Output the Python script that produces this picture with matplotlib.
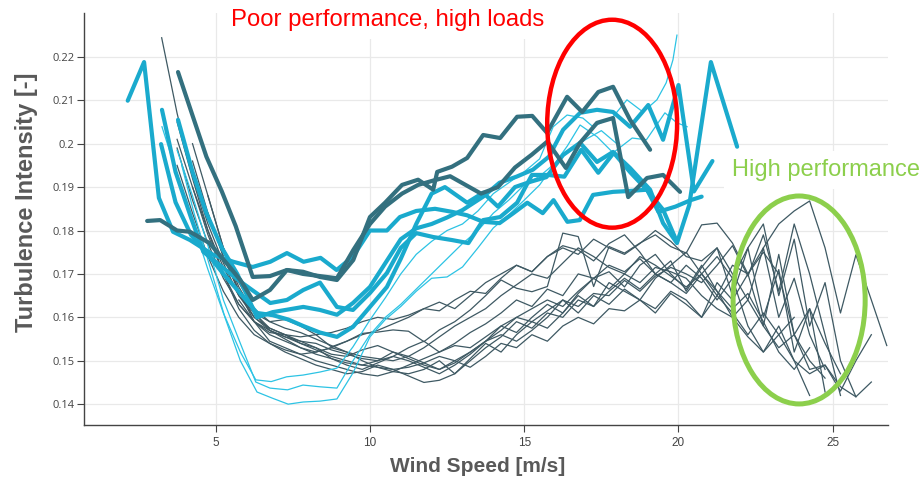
import numpy as np
import matplotlib
matplotlib.use("Agg")
import matplotlib.pyplot as plt
from matplotlib.patches import Ellipse

# ---------------- data ----------------
WS = [3.25, 3.75, 4.25, 4.75, 5.25, 5.75, 6.25, 6.75, 7.25, 7.75, 8.25, 8.75,
      9.25, 9.75, 10.25, 10.75, 11.25, 11.75, 12.25, 12.75, 13.25, 13.75, 14.25,
      14.75, 15.25, 15.75, 16.25, 16.75, 17.25, 17.75, 18.25, 18.75, 19.25, 19.75,
      20.25, 20.75, 21.25, 21.75, 22.25, 22.75, 23.25, 23.75, 24.25, 24.75, 25.25,
      25.75, 26.25, 26.75]

td1_start = 3.25
td1 = [.2244, .2070, .1925, .1815, .1725, .1650, .1600, .1575, .1560, .1545, .1530, .1515,
       .1510, .1525, .1535, .1520, .1505, .1490, .1480, .1495, .1520, .1545, .1560, .1545,
       .1570, .1600, .1640, .1625, .1655, .1650, .1685, .1660, .1695, .1715, .1700, .1680,
       .1720, .1765, .1695, .1790, .1660, .1815, .1700, .1560, .1420]
td2_start = 3.75
td2 = [.2010, .1900, .1800, .1715, .1650, .1610, .1590, .1595, .1580, .1560, .1532, .1545,
       .1563, .1566, .1571, .1568, .1544, .1571, .1590, .1617, .1650, .1686, .1667, .1659,
       .1671, .1794, .1786, .1671, .1763, .1748, .1771, .1790, .1763, .1748, .1813, .1817,
       .1771, .1700, .1760, .1815, .1845, .1868, .1760, .1610, .1744, .1640, .1535]
td3_start = 3.75
td3 = [.1990, .1870, .1770, .1690, .1630, .1590, .1570, .1555, .1545, .1540, .1525, .1515,
       .1505, .1500, .1510, .1530, .1545, .1520, .1540, .1565, .1585, .1610, .1640, .1625,
       .1665, .1650, .1700, .1690, .1720, .1705, .1735, .1700, .1730, .1660, .1715, .1760,
       .1650, .1760, .1600, .1710, .1520, .1620, .1540, .1470]
td4_start = 4.25
td4 = [.1960, .1840, .1740, .1660, .1610, .1575, .1560, .1540, .1530, .1505, .1490, .1480,
       .1495, .1510, .1500, .1485, .1470, .1490, .1515, .1545, .1570, .1600, .1590, .1615,
       .1640, .1610, .1650, .1630, .1665, .1640, .1610, .1655, .1630, .1600, .1650, .1720,
       .1700, .1580, .1745, .1560, .1620, .1428]
td5_start = 3.75
td5 = [.2050, .1920, .1800, .1700, .1620, .1570, .1540, .1520, .1505, .1490, .1480, .1470,
       .1475, .1490, .1480, .1465, .1450, .1455, .1470, .1500, .1530, .1555, .1590, .1575,
       .1610, .1600, .1640, .1625, .1660, .1690, .1665, .1700, .1680, .1655, .1700, .1740,
       .1690, .1760, .1815, .1650, .1780, .1580, .1680, .1500, .1417]
td6_start = 4.25
td6 = [.1900, .1790, .1700, .1630, .1590, .1565, .1560, .1555, .1560, .1565, .1575, .1590,
       .1600, .1595, .1605, .1620, .1635, .1620, .1650, .1680, .1700, .1720, .1705, .1740,
       .1760, .1745, .1780, .1760, .1745, .1770, .1800, .1775, .1740, .1730, .1760, .1700,
       .1640, .1760, .1600, .1690, .1560, .1480]
td7_start = 4.75
td7 = [.1840, .1740, .1660, .1600, .1570, .1555, .1540, .1525, .1510, .1500, .1490, .1500,
       .1520, .1510, .1495, .1480, .1500, .1520, .1545, .1580, .1565, .1600, .1630, .1610,
       .1655, .1690, .1665, .1700, .1680, .1715, .1705, .1690, .1650, .1620, .1600, .1555,
       .1520, .1580, .1500, .1420]
td8_start = 4.25
td8 = [.2000, .1880, .1760, .1660, .1590, .1545, .1530, .1515, .1500, .1490, .1480, .1470,
       .1465, .1475, .1490, .1505, .1520, .1535, .1530, .1555, .1580, .1600, .1620, .1640,
       .1625, .1660, .1690, .1705, .1670, .1720, .1745, .1700, .1665, .1720, .1660, .1600,
       .1640, .1580, .1530, .1560, .1500, .1460]
td9_start = 5.25
td9 = [.1760, .1680, .1620, .1590, .1575, .1565, .1550, .1535, .1520, .1510, .1505, .1500,
       .1510, .1530, .1555, .1580, .1600, .1620, .1650, .1675, .1700, .1690, .1725, .1760,
       .1740, .1715, .1700, .1740, .1720, .1695, .1670, .1700, .1660, .1620, .1655, .1590,
       .1520, .1480, .1530]
td10_start = 3.75
td10 = [.1950, .1840, .1740, .1660, .1600, .1560, .1540, .1525, .1515, .1520, .1530, .1520,
        .1500, .1485, .1475, .1470, .1480, .1500, .1470, .1505, .1540, .1520, .1560, .1590,
        .1575, .1610, .1650, .1625, .1680, .1660, .1640, .1690, .1720, .1750, .1700, .1650,
        .1610, .1560, .1610, .1560, .1500, .1470, .1490, .1440, .1417, .1451]
td11_start = 4.75
td11 = [.1880, .1760, .1670, .1610, .1570, .1550, .1530, .1515, .1505, .1495, .1490, .1485,
        .1480, .1485, .1495, .1510, .1500, .1485, .1510, .1540, .1530, .1560, .1545, .1580,
        .1600, .1585, .1620, .1615, .1640, .1620, .1660, .1640, .1600, .1680, .1640, .1700,
        .1750, .1700, .1560, .1480, .1490, .1430, .1500, .1560]
td12_start = 5.75
td12 = [.1640, .1590, .1560, .1545, .1530, .1520, .1530, .1545, .1560, .1570, .1585, .1600,
        .1620, .1615, .1640, .1660, .1655, .1690, .1720, .1705, .1740, .1765, .1755, .1730,
        .1770, .1790, .1750, .1700, .1680, .1720, .1690, .1640, .1690, .1580, .1520, .1560,
        .1600]

tc1_x = [3.26, 3.75, 4.25, 4.75, 5.25, 5.8, 6.3, 6.8, 7.3, 7.83, 8.38, 8.93, 9.45, 10.0, 10.5,
         11.0, 11.5, 12.0, 12.5, 13.0, 13.5, 14.0, 14.5, 15.0, 15.5, 15.94, 16.39, 16.9, 17.23,
         17.88, 18.33, 18.85, 19.3, 19.6, 19.82, 19.95]
tc1_y = [.2039, .1930, .1820, .1710, .1610, .1520, .1456, .1452, .1463, .1467, .1474, .1483,
         .1532, .1594, .1645, .1700, .1745, .1775, .1800, .1815, .1845, .1885, .1910, .1935,
         .1965, .2039, .2066, .2059, .2039, .2062, .2101, .2073, .2101, .2140, .2193, .2250]
tc2_x = [3.75, 4.25, 4.75, 5.25, 5.8, 6.3, 6.76, 7.33, 7.83, 8.38, 8.93, 9.45, 10.0, 10.5, 11.0,
         11.5, 12.0, 12.5, 13.0, 13.5, 14.0, 14.5, 15.0, 15.5, 16.0, 16.4, 16.81, 17.36, 17.88,
         18.5, 18.96, 19.56, 19.95, 20.28]
tc2_y = [.1985, .1880, .1765, .1640, .1540, .1451, .1437, .1433, .1444, .1440, .1437, .1500,
         .1560, .1600, .1630, .1665, .1700, .1735, .1770, .1800, .1840, .1870, .1905, .1925,
         .1955, .1995, .2043, .2016, .1979, .2013, .2009, .2071, .2048, .2039]
tc3_x = [3.9, 4.3, 4.8, 5.3, 5.8, 6.34, 6.83, 7.35, 7.84, 8.38, 8.93, 9.45, 10.0, 10.5, 11.0,
         11.5, 12.0, 12.5, 13.0, 13.5, 14.0, 14.5, 15.0, 15.5, 16.0, 16.5, 17.0, 17.5, 18.0]
tc3_y = [.1950, .1840, .1720, .1600, .1500, .1428, .1414, .1400, .1405, .1407, .1412, .1472,
         .1555, .1595, .1625, .1660, .1690, .1693, .1716, .1760, .1806, .1836, .1870, .1905,
         .1955, .1985, .2010, .2030, .2000]

ca_x = [2.15, 2.68, 3.16, 3.62, 4.17, 4.92, 5.57, 6.2, 6.77, 7.31, 7.85, 8.4, 8.92, 9.45, 10.0,
        10.55, 10.97, 11.5, 12.11, 12.66, 13.15, 13.67, 14.2, 14.65, 15.1, 15.6, 15.95, 16.4,
        16.8, 17.23, 17.88, 18.4, 18.98, 19.35, 19.9, 20.4, 20.75]
ca_y = [.2099, .2188, .1875, .1797, .1778, .1744, .1728, .1716, .1728, .1748, .1728, .1737,
        .1709, .1740, .1800, .1800, .1831, .1845, .1850, .1843, .1835, .1820, .1817, .1840,
        .1864, .1840, .1870, .1820, .1824, .1882, .1889, .1891, .1894, .1843, .1855, .1870,
        .1878]
cb_x = [3.26, 3.7, 4.2, 4.6, 5.24, 5.75, 6.18, 6.77, 7.31, 7.84, 8.38, 8.93, 9.45, 10.0, 10.55,
        11.0, 11.5, 12.05, 12.66, 13.19, 13.67, 14.22, 14.77, 15.25, 15.77, 16.3, 16.85, 17.4,
        17.9, 18.45, 18.97, 19.5, 19.95]
cb_y = [.2078, .1935, .1830, .1751, .1714, .1685, .1663, .1633, .1640, .1663, .1680, .1624,
        .1617, .1656, .1702, .1760, .1794, .1785, .1778, .1771, .1824, .1831, .1864, .1928,
        .1928, .1924, .1986, .1933, .1979, .1933, .1894, .1848, .1774]
ct_x = [3.78, 4.25, 4.7, 5.2, 5.7, 6.34, 6.85, 7.35, 7.84, 8.38, 8.93, 9.45, 10.0, 10.5, 11.0,
        11.5, 12.0, 12.5, 13.0, 13.67, 14.2, 14.75, 15.28, 15.8, 16.26, 16.81, 17.36, 17.88,
        18.43, 19.02, 19.5, 20.0, 20.5, 21.1]
ct_y = [.2055, .1935, .1840, .1760, .1700, .1600, .1612, .1618, .1624, .1617, .1606, .1633,
        .1670, .1725, .1780, .1805, .1815, .1830, .1847, .1878, .1910, .1924, .1940, .1970,
        .2032, .2071, .2078, .2073, .2039, .2089, .2009, .2135, .1890, .1960]
cv_x = [3.23, 3.7, 4.2, 4.75, 5.25, 5.8, 6.34, 6.85, 7.35, 7.84, 8.38, 8.93, 9.45, 10.0, 10.55,
        11.0, 11.5, 12.0, 12.43, 13.15, 13.67, 14.15, 14.7, 15.19, 15.72, 16.26, 16.81, 17.36,
        17.88, 18.43, 19.08, 19.5, 19.95, 20.35, 21.05, 21.9]
cv_y = [.1999, .1865, .1790, .1745, .1700, .1655, .1610, .1605, .1595, .1580, .1565, .1555,
        .1578, .1624, .1670, .1735, .1815, .1885, .1900, .1864, .1887, .1855, .1900, .1912,
        .1923, .1974, .2002, .1958, .1981, .1944, .1894, .1817, .1771, .1859, .2188, .1993]

d1_x = [3.78, 4.25, 4.7, 5.2, 5.65, 6.2, 6.76, 7.31, 7.83, 8.38, 8.93, 9.46, 10.0, 10.49, 11.04,
        11.56, 12.05, 12.18, 12.66, 13.15, 13.67, 14.22, 14.77, 15.26, 15.74, 16.39, 16.88,
        17.4, 17.88, 18.43, 19.08]
d1_y = [.2165, .2065, .1970, .1890, .1810, .1693, .1695, .1709, .1705, .1693, .1686, .1732,
        .1831, .1864, .1905, .1917, .1894, .1935, .1947, .1967, .2020, .2013, .2062, .2064,
        .2025, .2108, .2073, .2119, .2131, .2055, .1986]
d2_x = [2.78, 3.2, 3.75, 4.17, 4.8, 5.35, 5.8, 6.2, 6.76, 7.31, 7.83, 8.38, 8.93, 9.46, 10.0,
        10.49, 11.04, 11.56, 12.05, 12.6, 13.1, 13.6, 14.15, 14.7, 15.25, 15.75, 16.35, 16.81,
        17.36, 17.88, 18.37, 18.98, 19.5, 20.05]
d2_y = [.1822, .1824, .1800, .1797, .1771, .1725, .1686, .1640, .1663, .1709, .1700, .1695,
        .1690, .1755, .1815, .1855, .1885, .1905, .1915, .1925, .1905, .1885, .1900, .1945,
        .1975, .2005, .1944, .2002, .2048, .2059, .1877, .1921, .1928, .1889]

x_ticks = [5, 10, 15, 20, 25]
y_ticks = [0.14, 0.15, 0.16, 0.17, 0.18, 0.19, 0.20, 0.21, 0.22]
y_tick_labels = ["0.14", "0.15", "0.16", "0.17", "0.18", "0.19", "0.2", "0.21", "0.22"]

# ---------------- style ----------------
C_THIN_DARK = "#3e5963"
C_THIN_CYAN = "#2cc3e4"
C_THICK_CYAN = "#1aaacd"
C_THICK_DARK = "#33707f"

fig = plt.figure(figsize=(9.24, 4.82), dpi=100)
ax = fig.add_axes([84 / 924, 1 - 425 / 482, (888 - 84) / 924, (425 - 13) / 482])

def bins_from(start, n):
    i = WS.index(start)
    return WS[i:i + n]

thin_dark = [(td1_start, td1), (td2_start, td2), (td3_start, td3), (td4_start, td4),
             (td5_start, td5), (td6_start, td6), (td7_start, td7), (td8_start, td8),
             (td9_start, td9), (td10_start, td10), (td11_start, td11), (td12_start, td12)]
for s, ys in thin_dark:
    ax.plot(bins_from(s, len(ys)), ys, color=C_THIN_DARK, lw=0.9, zorder=2)

for xs, ys in [(tc1_x, tc1_y), (tc2_x, tc2_y), (tc3_x, tc3_y)]:
    ax.plot(xs, ys, color=C_THIN_CYAN, lw=0.9, zorder=3)

for xs, ys in [(ca_x, ca_y), (cb_x, cb_y), (ct_x, ct_y), (cv_x, cv_y)]:
    ax.plot(xs, ys, color=C_THICK_CYAN, lw=3.0, zorder=4, solid_joinstyle="round",
            solid_capstyle="round")
for xs, ys in [(d1_x, d1_y), (d2_x, d2_y)]:
    ax.plot(xs, ys, color=C_THICK_DARK, lw=3.0, zorder=5, solid_joinstyle="round",
            solid_capstyle="round")

ax.set_xlim(0.733, 26.79)
ax.set_ylim(0.1352, 0.2301)
ax.set_xticks(x_ticks)
ax.set_yticks(y_ticks)
ax.set_yticklabels(y_tick_labels)
ax.grid(True, color="#e9e9e9", lw=0.9, zorder=0)
ax.set_axisbelow(True)
for side in ["top", "right"]:
    ax.spines[side].set_visible(False)
for side in ["left", "bottom"]:
    ax.spines[side].set_color("#444444")
    ax.spines[side].set_linewidth(1.0)
ax.tick_params(axis="both", direction="out", length=5, width=0.8, color="#444444",
               labelcolor="#444444", pad=2)
for lab in ax.get_yticklabels():
    lab.set_fontfamily("Open Sans")
    lab.set_fontsize(8)
for lab in ax.get_xticklabels():
    lab.set_fontfamily("Liberation Sans")
    lab.set_fontsize(8.5)
ax.tick_params(axis="x", pad=4)

fig.text(478 / 924, 1 - 467 / 482, "Wind Speed [m/s]", ha="center", va="center",
         fontsize=15, fontweight="bold", color="#595959", family="Liberation Sans")
fig.text(27 / 924, 1 - 202 / 482, "Turbulence Intensity [-]", ha="center", va="center",
         rotation=90, fontsize=17, fontweight="bold", color="#595959", family="Liberation Sans")

ax.add_patch(Ellipse((17.85, 0.2046), 4.21, 0.0479, fill=False, ec="#ff0000", lw=3.2,
                     zorder=8, clip_on=False))
ax.add_patch(Ellipse((23.91, 0.1640), 4.28, 0.0479, fill=False, ec="#8ccf4c", lw=3.6,
                     zorder=8, clip_on=False))
fig.text(388 / 924, 1 - 20 / 482, "Poor performance, high loads", ha="center", va="center",
         fontsize=17.2, color="#ff0000", family="Liberation Sans", zorder=9,
         bbox=dict(facecolor="white", edgecolor="none", pad=6))
fig.text(826 / 924, 1 - 170 / 482, "High performance", ha="center", va="center",
         fontsize=17, color="#8ccf4c", family="Liberation Sans", zorder=9,
         bbox=dict(facecolor="white", edgecolor="none", pad=6))

fig.savefig("out.png", dpi=100, facecolor="white")
